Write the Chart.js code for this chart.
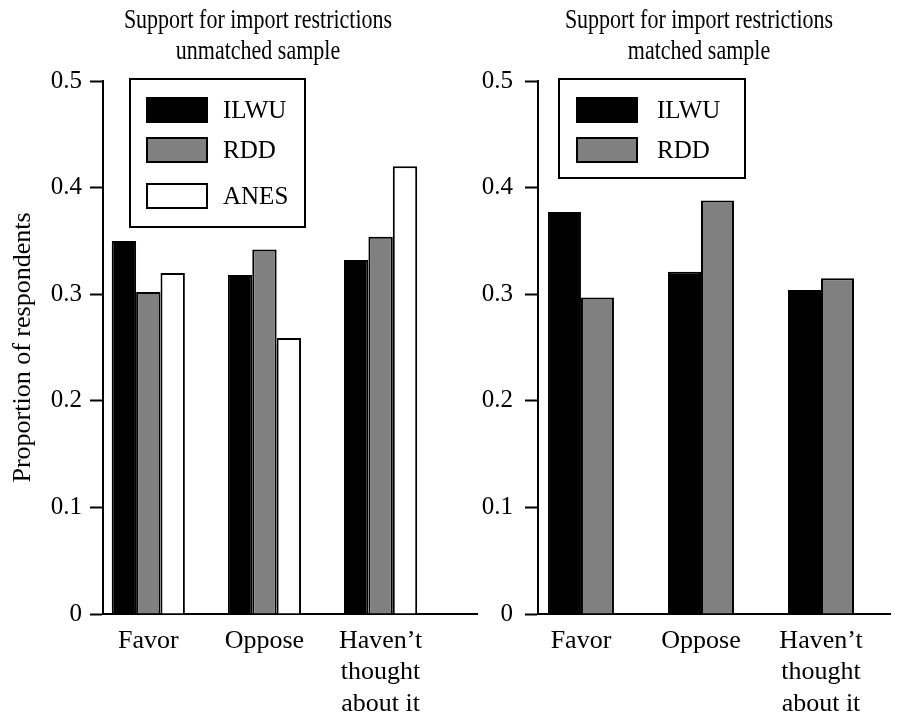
<!DOCTYPE html>
<html>
<head>
<meta charset="utf-8">
<script src="https://cdn.jsdelivr.net/npm/chart.js@4"></script>
<style>
  html, body { margin: 0; padding: 0; background: #fff; overflow: hidden; }
  .panel { position: absolute; top: 0; }
</style>
</head>
<body>
<canvas id="leftChart" class="panel" style="left:0px" width="490" height="720"></canvas>
<canvas id="rightChart" class="panel" style="left:449px" width="449" height="720"></canvas>
<script>
// categories (one entry per tick line)
const categoryLines = [["Favor"], ["Oppose"], ["Haven\u2019t", "thought", "about it"]];
const yTickLabels = ["0", "0.1", "0.2", "0.3", "0.4", "0.5"];

// unmatched sample
const unmatchedILWU = [0.350, 0.318, 0.332];
const unmatchedRDD  = [0.302, 0.342, 0.354];
const unmatchedANES = [0.320, 0.259, 0.420];

// matched sample
const matchedILWU = [0.377, 0.321, 0.304];
const matchedRDD  = [0.297, 0.388, 0.315];

const SERIF = '"Liberation Serif", "Times New Roman", serif';
Chart.defaults.font.family = SERIF;
Chart.defaults.color = "#000";

function toPoints(values) {
  return values.map((v, i) => ({ x: i, y: v }));
}

function barSet(label, values, color) {
  return {
    label: label,
    data: toPoints(values),
    backgroundColor: color,
    borderColor: "#000",
    borderWidth: 2
  };
}

// titles and boxed legend drawn on top of the chart
const panelDecor = {
  id: "panelDecor",
  afterDraw(chart, args, opts) {
    const ctx = chart.ctx;
    ctx.save();
    ctx.fillStyle = "#000";
    ctx.font = "22px " + SERIF;
    ctx.textAlign = "center";
    ctx.textBaseline = "alphabetic";
    opts.title.forEach((line, i) => {
      // the original title type is a bit taller than wide
      ctx.save();
      ctx.translate(opts.titleX, 28 + i * 31);
      ctx.scale(1, 1.2);
      ctx.fillText(line, 0, 0);
      ctx.restore();
    });

    const lg = opts.legend;
    ctx.lineWidth = 2;
    ctx.strokeStyle = "#000";
    ctx.strokeRect(lg.x, lg.y, lg.w, lg.h);
    ctx.font = "25px " + SERIF;
    ctx.textAlign = "left";
    ctx.textBaseline = "middle";
    chart.data.datasets.forEach((ds, i) => {
      const cy = lg.rowY[i];
      ctx.fillStyle = ds.backgroundColor;
      ctx.fillRect(lg.swatchX, cy - 13, 62, 26);
      ctx.strokeRect(lg.swatchX + 1, cy - 12, 60, 24);
      ctx.fillStyle = "#000";
      ctx.fillText(ds.label, lg.textX, cy + 1);
    });
    ctx.restore();
  }
};

function makeOptions(cfg) {
  return {
    responsive: false,
    animation: false,
    layout: { padding: { top: 81, left: 0, right: cfg.padRight, bottom: 0 } },
    datasets: { bar: { categoryPercentage: cfg.groupShare, barPercentage: 1 } },
    plugins: {
      legend: { display: false },
      tooltip: { enabled: false },
      panelDecor: { title: cfg.title, titleX: cfg.titleX, legend: cfg.legend }
    },
    scales: {
      x: {
        type: "linear",
        min: cfg.xMin,
        max: cfg.xMax,
        offset: false,
        afterBuildTicks: axis => { axis.ticks = categoryLines.map((_, i) => ({ value: i })); },
        afterFit: axis => { axis.height = 106; },
        grid: { display: false, drawTicks: false, offset: false },
        border: { color: "#000", width: 2 },
        ticks: {
          color: "#000",
          font: { size: 26, lineHeight: 1.22 },
          padding: 11,
          maxRotation: 0,
          autoSkip: false,
          callback: v => categoryLines[v]
        }
      },
      y: {
        min: 0,
        max: 0.5,
        afterFit: axis => { axis.width = cfg.yWidth; },
        grid: { drawOnChartArea: false, drawTicks: true, tickLength: 13, tickWidth: 2, color: "#000", tickColor: "#000" },
        border: { color: "#000", width: 2 },
        ticks: {
          stepSize: 0.1,
          color: "#000",
          font: { size: 25 },
          padding: cfg.yPad,
          callback: (v, i) => yTickLabels[i]
        },
        title: {
          display: cfg.yTitle,
          text: "Proportion of respondents",
          color: "#000",
          font: { size: 26 },
          padding: { top: 8, bottom: 0 }
        }
      }
    }
  };
}

new Chart(document.getElementById("leftChart"), {
  type: "bar",
  data: {
    datasets: [
      barSet("ILWU", unmatchedILWU, "#000000"),
      barSet("RDD", unmatchedRDD, "#808080"),
      barSet("ANES", unmatchedANES, "#ffffff")
    ]
  },
  options: makeOptions({
    padRight: 13, yWidth: 103, yPad: 8, yTitle: true,
    xMin: -0.39, xMax: 2.83, groupShare: 0.63,
    title: ["Support for import restrictions", "unmatched sample"], titleX: 258,
    legend: { x: 130, y: 79, w: 175, h: 148, swatchX: 146, textX: 223, rowY: [110, 150, 196] }
  }),
  plugins: [panelDecor]
});

new Chart(document.getElementById("rightChart"), {
  type: "bar",
  data: {
    datasets: [
      barSet("ILWU", matchedILWU, "#000000"),
      barSet("RDD", matchedRDD, "#808080")
    ]
  },
  options: makeOptions({
    padRight: 8, yWidth: 89, yPad: 12, yTitle: false,
    xMin: -0.358, xMax: 2.575, groupShare: 0.55,
    title: ["Support for import restrictions", "matched sample"], titleX: 250,
    legend: { x: 110, y: 79, w: 186, h: 99, swatchX: 127, textX: 208, rowY: [110, 150] }
  }),
  plugins: [panelDecor]
});
</script>
</body>
</html>
